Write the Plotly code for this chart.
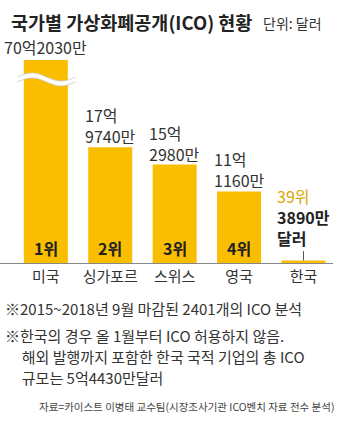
import numpy as np
import plotly.graph_objects as go

countries = ["미국", "싱가포르", "스위스", "영국", "한국"]
values_eok = [70.203, 17.974, 15.298, 11.116, 0.389]   # 억 달러
value_labels = ["70억2030만", "17억<br>9740만", "15억<br>2980만", "11억<br>1160만", ""]
ranks = ["1위", "2위", "3위", "4위", "39위"]
korea_label = ["3890만", "달러"]
title = "국가별 가상화폐공개(ICO) 현황"
unit = "단위: 달러"
notes = [
    "※2015~2018년 9월 마감된 2401개의 ICO 분석",
    "※한국의 경우 올 1월부터 ICO 허용하지 않음.",
    "  해외 발행까지 포함한 한국 국적 기업의 총 ICO",
    "  규모는 5억4430만달러",
]
source = "자료=카이스트 이병태 교수팀(시장조사기관 ICO벤치 자료 전수 분석)"

W, H = 350, 426
TOP, BASE = 60, 263.5
PLOT_W = 333
YMAX = 31.55
BAR_COLOR = "#F9BE00"
FONT = "Noto Sans CJK KR, sans-serif"
KFONT = "Noto Sans CJK KR, sans-serif"

def py(p):
    return (BASE - p) / (BASE - TOP)

def px(p):
    return p / PLOT_W

x = list(range(len(countries)))
bw = 0.683

fig = go.Figure(go.Bar(x=x, y=values_eok, width=bw, marker_color=BAR_COLOR,
                       marker_line_width=0, hoverinfo="skip"))

ann = []
for i, (v, lab) in enumerate(zip(values_eok, value_labels)):
    if not lab:
        continue
    if v > YMAX:
        ann.append(dict(x=i, y=1, xref="x", yref="paper", text=lab, showarrow=False,
                        xanchor="center", yanchor="bottom", align="left", yshift=-1,
                        font=dict(family=FONT, size=16, color="#333")))
    else:
        ann.append(dict(x=i, y=v, xref="x", yref="y", text=lab, showarrow=False,
                        xanchor="center", yanchor="bottom", align="left", yshift=-3,
                        font=dict(family=FONT, size=16, color="#333")))
for i, r in enumerate(ranks[:4]):
    ann.append(dict(x=i, y=0, xref="x", yref="y", text="<b>%s</b>" % r, showarrow=False,
                    xanchor="center", yanchor="bottom", yshift=1,
                    font=dict(family=FONT, size=16, color="#222")))
ann.append(dict(x=4, y=values_eok[4], xref="x", yref="y",
                text="<span style='color:#DBA300'>%s</span><br><b>%s</b><br><b>%s</b>"
                     % (ranks[4], korea_label[0], korea_label[1]),
                showarrow=True, arrowhead=0, arrowwidth=1, arrowcolor="#555",
                ax=0, ay=-44, align="left", standoff=0,
                font=dict(family=FONT, size=16, color="#222")))
ann.append(dict(x=px(9), y=py(22), xref="paper", yref="paper", text="<b>%s</b>" % title,
                showarrow=False, xanchor="left", yanchor="middle",
                font=dict(family=KFONT, size=18.5, color="#222")))
ann.append(dict(x=px(261), y=py(23), xref="paper", yref="paper", text=unit,
                showarrow=False, xanchor="left", yanchor="middle",
                font=dict(family=KFONT, size=14, color="#333")))
note_y = [309, 336, 357, 378]
for t, yy in zip(notes, note_y):
    ann.append(dict(x=px(3), y=py(yy), xref="paper", yref="paper",
                    text=t.replace("  ", "&nbsp;&nbsp;&nbsp;&nbsp;&nbsp;"),
                    showarrow=False, xanchor="left", yanchor="middle",
                    font=dict(family=FONT, size=15, color="#333")))
ann.append(dict(x=px(336), y=py(407), xref="paper", yref="paper", text=source,
                showarrow=False, xanchor="right", yanchor="middle",
                font=dict(family=FONT, size=10.5, color="#444")))

t = np.linspace(0, 1, 40)
x0, x1 = 0 - bw / 2 - 0.1, 0 + bw / 2 + 0.12
xs = x0 + (x1 - x0) * t
yc = py(79.5)
amp = 4 / (BASE - TOP)
th = 2.5 / (BASE - TOP)
ytop = yc + th + amp * np.sin(2 * np.pi * t)
ybot = yc - th + amp * np.sin(2 * np.pi * t)
def pts(xa, ya):
    return " ".join("%s%.4f,%.4f" % ("M" if k == 0 else "L", a, b) for k, (a, b) in enumerate(zip(xa, ya)))
band = pts(np.concatenate([xs, xs[::-1]]), np.concatenate([ytop, ybot[::-1]])) + " Z"
shapes = [
    dict(type="path", xref="x", yref="paper", path=band, fillcolor="white", line_width=0),
    dict(type="path", xref="x", yref="paper", path=pts(xs, ytop), line=dict(color="#c8c8c8", width=0.8)),
    dict(type="path", xref="x", yref="paper", path=pts(xs, ybot), line=dict(color="#c8c8c8", width=0.8)),
]

fig.update_layout(
    width=W, height=H, margin=dict(l=0, r=W - PLOT_W, t=TOP, b=H - BASE),
    paper_bgcolor="white", plot_bgcolor="white", showlegend=False,
    annotations=ann, shapes=shapes,
    xaxis=dict(range=[-45.8 / 64.4, 4 + (PLOT_W - 303.5) / 64.4], tickmode="array",
               tickvals=x, ticktext=countries, showgrid=False, zeroline=False,
               showline=True, linecolor="#888", linewidth=1, ticks="",
               tickfont=dict(family=KFONT, size=15, color="#333"), fixedrange=True),
    yaxis=dict(range=[0, YMAX], visible=False, fixedrange=True),
)
fig.write_html("out.html", config={"displayModeBar": False})
